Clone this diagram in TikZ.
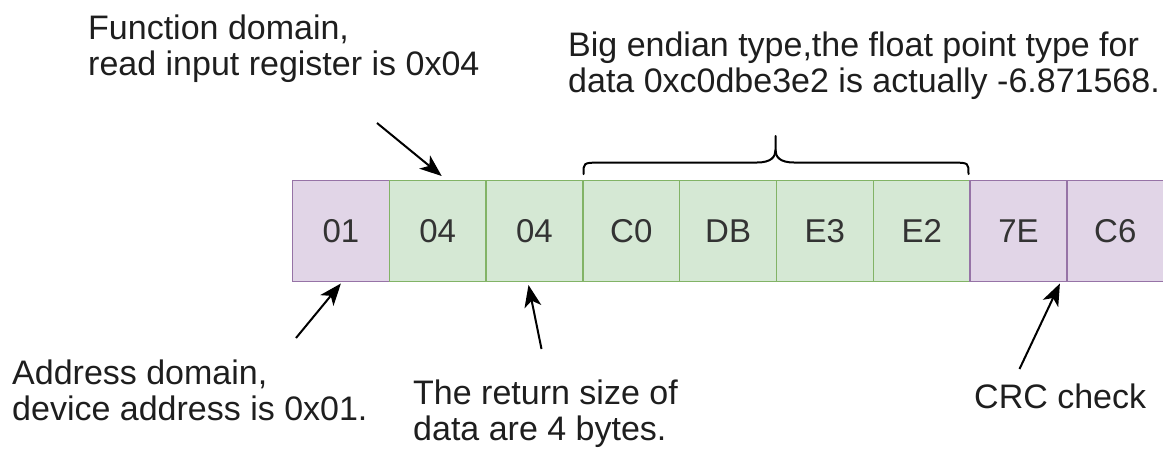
\documentclass[tikz,border=0pt]{standalone}
\usepackage{fontspec}
\setmainfont{Liberation Sans}
\usetikzlibrary{arrows.meta}
\definecolor{purpfill}{HTML}{E1D5E7}
\definecolor{purpline}{HTML}{9673A6}
\definecolor{greenfill}{HTML}{D5E8D4}
\definecolor{greenline}{HTML}{82B366}
\definecolor{celltext}{HTML}{333333}
\definecolor{labeltext}{HTML}{1E1E1E}

\begin{document}
\begin{tikzpicture}[x=1pt,y=-1pt,
  cell/.style={anchor=north west, minimum width=96.8pt, minimum height=101pt,
    inner sep=0pt, outer sep=0pt, line width=1.5pt, text=celltext,
    font=\fontsize{33}{33}\selectfont},
  crcbyte/.style={cell, fill=purpfill, draw=purpline},
  databyte/.style={cell, fill=greenfill, draw=greenline},
  % anchored at the baseline of the last line
  note/.style={anchor=base west, align=left, inner sep=0pt, text=labeltext,
    font=\fontsize{34}{36}\selectfont},
  pointer/.style={-{Stealth[length=22pt,width=17pt,inset=6pt]}, line width=2pt, black},
  bracestyle/.style={line width=2pt, line cap=round, line join=round, black},
]
\useasboundingbox (0,0) rectangle (1163,448);

% frame bytes
\node[crcbyte]  (b1) at (292.5,180.5) {01};
\node[databyte] (b2) at (389.3,180.5) {04};
\node[databyte] (b3) at (486.1,180.5) {04};
\node[databyte] (b4) at (582.9,180.5) {C0};
\node[databyte] (b5) at (679.7,180.5) {DB};
\node[databyte] (b6) at (776.5,180.5) {E3};
\node[databyte] (b7) at (873.3,180.5) {E2};
\node[crcbyte]  (b8) at (970.1,180.5) {7E};
\node[crcbyte]  (b9) at (1066.9,180.5) {C6};

% curly brace over the four data bytes
\draw[bracestyle] (583.5,174) .. controls (583.5,163) .. (597,162.5) -- (757,162.5)
  .. controls (771,162.5) and (775.5,157) .. (775.5,150) -- (775.5,136);
\draw[bracestyle] (968.5,174) .. controls (968.5,163) .. (955,162.5) -- (794,162.5)
  .. controls (780,162.5) and (775.5,157) .. (775.5,150);

% annotations
\node[note] (fn)   at (88,75)   {Function domain,\\read input register is 0x04};
\node[note] (flt)  at (568,92)  {Big endian type,the float point type for\\data 0xc0dbe3e2 is actually -6.871568.};
\node[note] (addr) at (12,420)  {Address domain,\\device address is 0x01.};
\node[note] (len)  at (413,440) {The return size of\\data are 4 bytes.};
\node[note] (crc)  at (974,408) {CRC check};

% pointers
\coordinate (fnTail)   at (377,123);
\coordinate (addrTail) at (296,338);
\coordinate (lenTail)  at (541.5,349);
\coordinate (crcTail)  at (1019.5,369);
\draw[pointer] (fnTail)   -- ([xshift=4pt,yshift=4.5pt]b2.north);
\draw[pointer] (addrTail) -- ([yshift=-2pt]b1.south);
\draw[pointer] (lenTail)  -- ([xshift=-6pt,yshift=-3.5pt]b3.south);
\draw[pointer] (crcTail)  -- ([xshift=-7pt,yshift=-2pt]b8.south east);
\end{tikzpicture}
\end{document}
